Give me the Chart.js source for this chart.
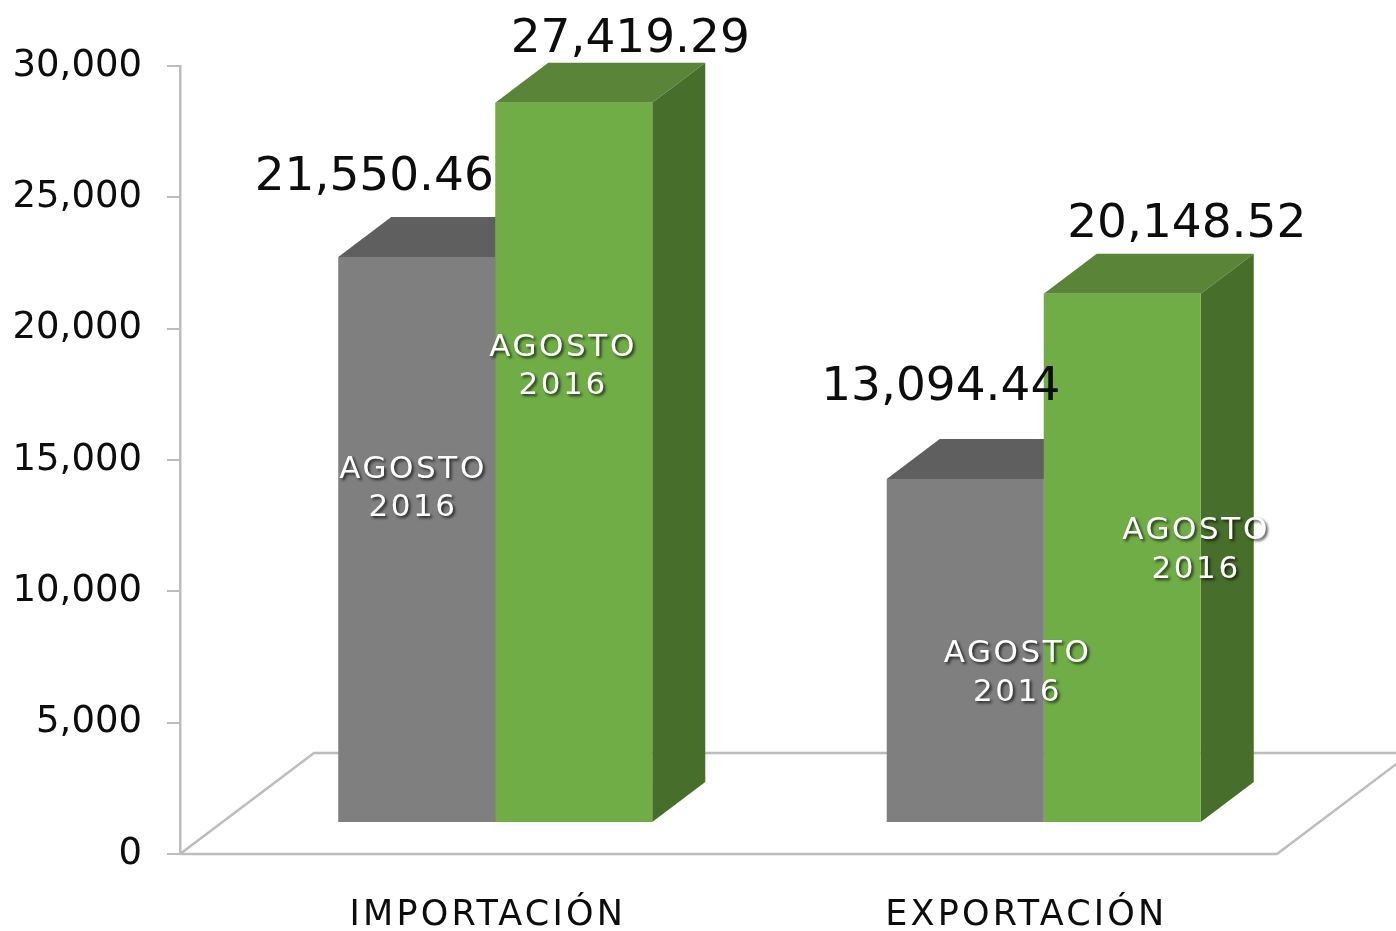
<!DOCTYPE html>
<html>
<head>
<meta charset="utf-8">
<script src="https://cdn.jsdelivr.net/npm/chart.js@4.4.0/dist/chart.umd.min.js"></script>
<style>
  html, body { margin: 0; padding: 0; background: #fff; }
</style>
</head>
<body>
<canvas id="myChart" width="1396" height="931"></canvas>
<script>
const categories = ['IMPORTACIÓN', 'EXPORTACIÓN'];
const seriesLabels = [['AGOSTO', '2016'], ['AGOSTO', '2016']];
const grayValues = [21550.46, 13094.44];
const greenValues = [27419.29, 20148.52];
const yTicks = [0, 5000, 10000, 15000, 20000, 25000, 30000];

// layout of the fake 3D (pixels)
const ROW_X = 41, ROW_Y = -31;        // bar row sits inside the floor
const DEPTH_X = 53, DEPTH_Y = -40;    // bar depth
const FLOOR_X = 134, FLOOR_Y = -101;  // floor depth
// hand placed labels, relative to the front face (center x, top y)
const valueNudge = [[[-42.5, -67], [-24.5, -79]], [[56.5, -51], [64.5, -56.5]]];
const innerNudge = [[[-5, 221], [51, 183]], [[-12, 253], [72.5, 245.5]]];
const catNudge = [32, 22];

const faces = [
  { front: '#7f7f7f', top: '#5f5f5f', side: '#4f4f4f' },
  { front: '#70ad47', top: '#5a8538', side: '#486e2b' },
];

const fmtValue = (v) => v.toLocaleString('en-US', { minimumFractionDigits: 2, maximumFractionDigits: 2 });

function frontBox(el) {
  const { x, y, base, width } = el.getProps(['x', 'y', 'base', 'width'], true);
  return { x0: x - width / 2 + ROW_X, x1: x + width / 2 + ROW_X, top: y + ROW_Y, bottom: base + ROW_Y, cx: x + ROW_X };
}

const bars3d = {
  id: 'bars3d',
  beforeDatasetsDraw(chart) {
    const { ctx, chartArea: { left, right, bottom } } = chart;
    // floor outline
    ctx.save();
    ctx.strokeStyle = '#bdbdbd';
    ctx.lineWidth = 2.5;
    ctx.beginPath();
    ctx.moveTo(left, bottom);
    ctx.lineTo(left + FLOOR_X, bottom + FLOOR_Y);
    ctx.lineTo(right + FLOOR_X, bottom + FLOOR_Y);
    ctx.lineTo(right, bottom);
    ctx.lineTo(left, bottom);
    ctx.stroke();

    // top and side faces, fronts come from chart.js itself
    chart.data.datasets.forEach((ds, i) => {
      chart.getDatasetMeta(i).data.forEach((el) => {
        const b = frontBox(el);
        ctx.fillStyle = faces[i].top;
        ctx.beginPath();
        ctx.moveTo(b.x0, b.top);
        ctx.lineTo(b.x1, b.top);
        ctx.lineTo(b.x1 + DEPTH_X, b.top + DEPTH_Y);
        ctx.lineTo(b.x0 + DEPTH_X, b.top + DEPTH_Y);
        ctx.closePath();
        ctx.fill();
        ctx.fillStyle = faces[i].side;
        ctx.beginPath();
        ctx.moveTo(b.x1, b.top);
        ctx.lineTo(b.x1 + DEPTH_X, b.top + DEPTH_Y);
        ctx.lineTo(b.x1 + DEPTH_X, b.bottom + DEPTH_Y);
        ctx.lineTo(b.x1, b.bottom);
        ctx.closePath();
        ctx.fill();
      });
    });
    ctx.restore();
  },
  beforeDatasetDraw(chart) {
    chart.ctx.save();
    chart.ctx.translate(ROW_X, ROW_Y);
  },
  afterDatasetDraw(chart) {
    chart.ctx.restore();
  },
  afterDatasetsDraw(chart) {
    const { ctx, scales: { x } } = chart;
    ctx.save();
    ctx.textAlign = 'center';
    ctx.textBaseline = 'alphabetic';

    chart.data.datasets.forEach((ds, i) => {
      chart.getDatasetMeta(i).data.forEach((el, j) => {
        const b = frontBox(el);
        // value above the bar
        ctx.shadowColor = 'transparent';
        ctx.letterSpacing = '0px';
        ctx.fillStyle = '#0d0d0d';
        ctx.font = '47px "DejaVu Sans"';
        ctx.fillText(fmtValue(ds.data[j]), b.cx + valueNudge[i][j][0], b.top + valueNudge[i][j][1]);

        // series name inside the bar
        ctx.font = '31px "DejaVu Sans"';
        ctx.letterSpacing = '2.6px';
        ctx.fillStyle = '#ffffff';
        ctx.shadowColor = 'rgba(0,0,0,0.7)';
        ctx.shadowOffsetX = 2;
        ctx.shadowOffsetY = 2;
        ctx.shadowBlur = 3;
        seriesLabels[i].forEach((line, k) => {
          ctx.fillText(line, b.cx + innerNudge[i][j][0] + 1.3, b.top + innerNudge[i][j][1] + k * 38.5);
        });
        ctx.shadowColor = 'transparent';
      });
    });

    // category names under the floor
    ctx.font = '35px "DejaVu Sans"';
    ctx.letterSpacing = '3.2px';
    ctx.fillStyle = '#0d0d0d';
    categories.forEach((c, i) => {
      ctx.fillText(c, x.getPixelForValue(i) + catNudge[i] + 1.6, 925);
    });
    ctx.restore();
  },
};

const config = {
  type: 'bar',
  data: {
    labels: categories,
    datasets: [
      {
        label: seriesLabels[0].join(' '),
        data: grayValues,
        backgroundColor: faces[0].front,
        categoryPercentage: 0.5725,
        barPercentage: 1,
        clip: false,
      },
      {
        label: seriesLabels[1].join(' '),
        data: greenValues,
        backgroundColor: faces[1].front,
        categoryPercentage: 0.5725,
        barPercentage: 1,
        clip: false,
      },
    ],
  },
  options: {
    responsive: false,
    animation: false,
    devicePixelRatio: 1,
    layout: { padding: { top: 66, right: 119, bottom: 77, left: 0 } },
    plugins: {
      legend: { display: false },
      tooltip: { enabled: false },
    },
    scales: {
      x: { display: false },
      y: {
        min: 0,
        max: 30000,
        afterBuildTicks: (scale) => {
          scale.ticks = yTicks.map((v) => ({ value: v }));
        },
        afterFit: (scale) => {
          scale.width = 180;
        },
        ticks: {
          color: '#0d0d0d',
          padding: 25,
          font: { family: 'DejaVu Sans', size: 37 },
          callback: (v) => Number(v).toLocaleString('en-US'),
        },
        grid: {
          drawOnChartArea: false,
          drawTicks: true,
          tickLength: 13,
          color: '#bdbdbd',
          lineWidth: 2,
        },
        border: { display: true, color: '#bdbdbd', width: 2.5 },
      },
    },
  },
  plugins: [bars3d],
};

new Chart(document.getElementById('myChart'), config);
</script>
</body>
</html>
